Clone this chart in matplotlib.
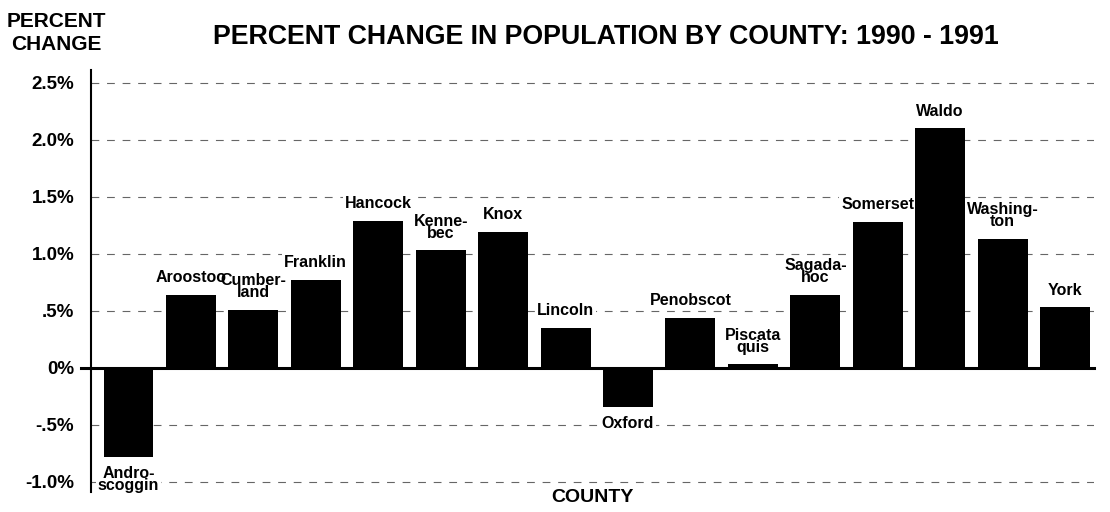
import matplotlib
matplotlib.use("Agg")
import matplotlib.pyplot as plt

# County names as printed on the chart (line breaks as in the original)
counties = ["Andro-\nscoggin", "Aroostoo", "Cumber-\nland", "Franklin", "Hancock",
            "Kenne-\nbec", "Knox", "Lincoln", "Oxford", "Penobscot",
            "Piscata\nquis", "Sagada-\nhoc", "Somerset", "Waldo", "Washing-\nton", "York"]
pct_change = [-0.78, 0.64, 0.51, 0.77, 1.29, 1.03, 1.19, 0.35, -0.34, 0.44,
              0.03, 0.64, 1.28, 2.10, 1.13, 0.53]
ytick_vals = [-1.0, -0.5, 0.0, 0.5, 1.0, 1.5, 2.0, 2.5]
ytick_labels = ["-1.0%", "-.5%", "0%", ".5%", "1.0%", "1.5%", "2.0%", "2.5%"]

plt.rcParams['font.family'] = ['Liberation Sans', 'DejaVu Sans']
plt.rcParams['font.weight'] = 'bold'

fig = plt.figure(figsize=(11.1, 5.12), dpi=100)
ax = fig.add_axes([0.082, 0.039, 0.904, 0.824])

x = list(range(len(counties)))
ax.bar(x, pct_change, width=0.8, color='black', zorder=3)

# dashed grid lines (zero line is solid)
for v in ytick_vals:
    if v != 0:
        ax.axhline(v, color='#666666', lw=0.8, dashes=(7, 7), zorder=1)
ax.axhline(0, color='black', lw=2.2, xmin=-0.01, clip_on=False, zorder=4)


def put_label(xi, val, name, **kw):
    if val >= 0:
        off, va = 7, 'bottom'
    else:
        off, va = -7, 'top'
    ax.annotate(name, (xi, val), xytext=(0, off), textcoords='offset points',
                ha='center', va=va, fontsize=11.5, fontweight='bold',
                linespacing=0.75, **kw)


# first pass: white boxes that break the grid lines behind the labels
for xi, val, name in zip(x, pct_change, counties):
    put_label(xi, val, name, color='none', zorder=1.5,
              bbox=dict(boxstyle='square,pad=0.12', fc='white', ec='none'))
# second pass: the label text itself
for xi, val, name in zip(x, pct_change, counties):
    put_label(xi, val, name, color='black', zorder=2.5)

ax.set_xlim(-0.6, 15.47)
ax.set_ylim(-1.09, 2.61)
ax.set_yticks(ytick_vals)
ax.set_yticklabels(ytick_labels, fontsize=13.5, fontweight='bold')
ax.set_xticks([])
ax.tick_params(axis='y', length=0, pad=12)

for s in ['top', 'right', 'bottom']:
    ax.spines[s].set_visible(False)
ax.spines['left'].set_linewidth(1.5)

fig.text(0.051, 0.935, "PERCENT\nCHANGE", ha='center', va='center',
         fontsize=15, fontweight='bold', linespacing=1.25)
fig.text(0.546, 0.928, "PERCENT CHANGE IN POPULATION BY COUNTY: 1990 - 1991",
         ha='center', va='center', fontsize=19.3, fontweight='bold')
fig.text(0.534, 0.028, "COUNTY", ha='center', va='center',
         fontsize=14, fontweight='bold')

fig.savefig("out.png", dpi=100)
